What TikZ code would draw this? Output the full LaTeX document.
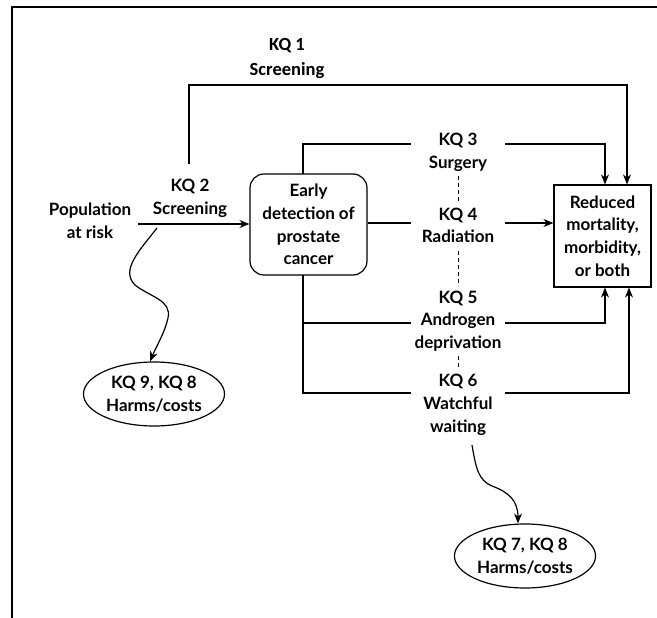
\documentclass[tikz,border=0pt]{standalone}
\usepackage{fontspec}
\setmainfont{Lato}
\newfontfamily\calib{Carlito}
\usetikzlibrary{arrows.meta,shapes.geometric,calc}
\begin{document}
\begin{tikzpicture}[x=1pt,y=-1pt, line width=1.2pt,
  >={Stealth[length=10pt,width=8pt]},
  txt/.style={font=\fontsize{17}{22.7}\selectfont\bfseries, align=center, inner sep=0pt},
  kqlbl/.style={txt, fill=white, minimum width=94pt, inner ysep=1pt},
  earlybox/.style={txt, draw, rounded corners=14pt, minimum width=117pt, minimum height=101pt},
  outbox/.style={txt, draw, minimum width=97pt, minimum height=102pt},
  harm/.style={txt, draw, ellipse, minimum width=141pt, minimum height=64pt, inner sep=0pt},
  dashline/.style={dashed, dash pattern=on 4pt off 3pt, line width=0.8pt}]
\useasboundingbox (0,0) rectangle (657,618);
\draw (12,618) -- (12,7) -- (657,7);

% nodes
\node[txt] (pop) at (90,221) {Population\\at risk};
\node[txt] (kq2) at (190,198) {KQ 2\\Screening};
\node[txt, font=\calib\fontsize{18.5}{25}\selectfont\bfseries] (kq1) at (287,59) {KQ 1\\Screening};
\node[earlybox] (early) at (308.5,224.5) {Early\\detection of\\prostate\\cancer};
\node[outbox] (red) at (602.5,236) {Reduced\\mortality,\\morbidity,\\or both};
\node[harm] (h1) at (154,394) {KQ 9, KQ 8\\Harms/costs};
\node[harm] (h2) at (525,556) {KQ 7, KQ 8\\Harms/costs};

% coordinates
\coordinate (popout) at (138,224);
\coordinate (etop) at (303,174);
\coordinate (ebot) at (303,275);
\coordinate (kq1start) at (189,164);
\coordinate (sq1) at (157,228);
\coordinate (sq2) at (472,445);

% KQ1
\draw[->] (kq1start) -- (189,85) -- (627,85) -- (red.north -| 627,0);
% KQ2
\draw[->] (popout) -- (early.west |- popout);
% KQ3
\draw[->] (etop) -- (303,144) -- (605,144) -- (red.north -| 605,0);
% KQ4
\draw[->] (early.east |- 0,223) -- (red.west |- 0,223);
% KQ5 & KQ6
\draw[->] (ebot) -- (303,393) -- (629,393) -- (red.south -| 629,0);
\draw[->] (303,323) -- (605,323) -- (red.south -| 605,0);

% labels over lines
\node[kqlbl] (kq3) at (458,152) {KQ 3\\Surgery};
\node[kqlbl] (kq4) at (458,225.5) {KQ 4\\Radiation};
\node[kqlbl] (kq5) at (458,321) {KQ 5\\Androgen\\deprivation};
\node[kqlbl] (kq6) at (458,405) {KQ 6\\Watchful\\waiting};

% dashed links
\draw[dashline] (458,176) -- (458,201);
\draw[dashline] (458,251) -- (458,286);
\draw[dashline] (458,356) -- (458,367);

% harms squiggles
\draw[->] (sq1) .. controls (140,250) and (120,270) .. (135,285)
  .. controls (150,297) and (172,300) .. (168,318)
  .. controls (165,332) and (157,345) .. (h1.north -| 150,0);
\draw[->] (sq2) .. controls (476,468) and (478,480) .. (492,486)
  .. controls (508,492) and (518,500) .. (h2.north -| 518,0);
\end{tikzpicture}
\end{document}
